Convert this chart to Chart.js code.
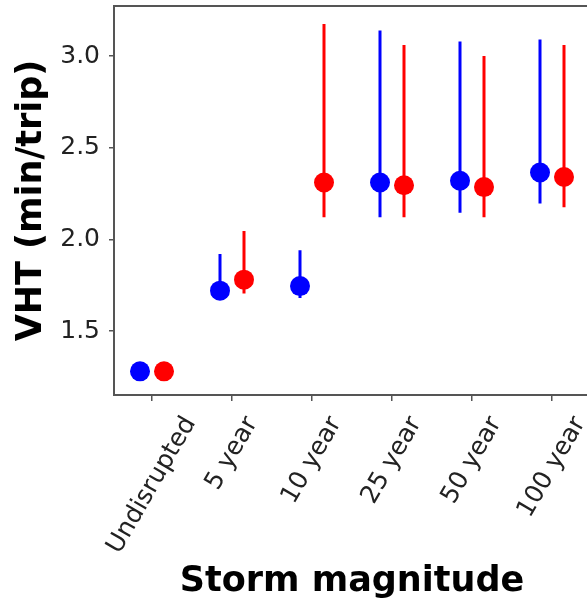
<!DOCTYPE html>
<html>
<head>
<meta charset="utf-8">
<script src="https://cdn.jsdelivr.net/npm/chart.js@4/dist/chart.umd.min.js"></script>
<style>
  html, body { margin: 0; padding: 0; background: #fff; overflow: hidden; }
  #wrap { width: 600px; height: 606px; }
</style>
</head>
<body>
<div id="wrap"><canvas id="c" width="600" height="606"></canvas></div>
<script>
// Storm scenarios along the x axis
const categories = ['Undisrupted', '5 year', '10 year', '25 year', '50 year', '100 year'];

// Blue series: mean VHT with lower / upper range
const blueMean = [1.28, 1.72, 1.745, 2.31, 2.32, 2.365];
const blueLow  = [null, 1.67, 1.68, 2.12, 2.145, 2.195];
const blueHigh = [null, 1.92, 1.94, 3.14, 3.08, 3.09];

// Red series: mean VHT with lower / upper range
const redMean = [1.28, 1.78, 2.31, 2.295, 2.285, 2.34];
const redLow  = [null, 1.705, 2.12, 2.12, 2.12, 2.175];
const redHigh = [null, 2.045, 3.175, 3.06, 3.0, 3.06];

// Y axis tick values
const yTicks = [1.5, 2.0, 2.5, 3.0];

const BLUE = '#0000ff';
const RED = '#ff0000';
const FRAME = '#555555';
const TICK_TEXT = '#222222';
const DODGE = 0.15;

function points(mean, shift) {
  return mean.map((v, i) => ({ x: i + shift, y: v }));
}
function ranges(low, high, shift) {
  const out = [];
  low.forEach((lo, i) => {
    if (lo === null) return;
    out.push({ x: i + shift, y: lo }, { x: i + shift, y: high[i] }, { x: i + shift, y: null });
  });
  return out;
}

// Axes frame drawn around the plotting area
const framePlugin = {
  id: 'frame',
  afterDatasetsDraw(chart) {
    const { ctx, chartArea: a } = chart;
    ctx.save();
    ctx.strokeStyle = FRAME;
    ctx.lineWidth = 2;
    ctx.strokeRect(a.left, a.top, a.right - a.left, a.bottom - a.top);
    ctx.restore();
  }
};

// Rotated category labels, each centred under its tick
const xLabelPlugin = {
  id: 'xlabels',
  afterDraw(chart) {
    const ctx = chart.ctx;
    const xs = chart.scales.x;
    const a = chart.chartArea;
    const ang = 60 * Math.PI / 180;
    ctx.save();
    ctx.font = '25px "DejaVu Sans"';
    ctx.fillStyle = TICK_TEXT;
    ctx.textAlign = 'center';
    ctx.textBaseline = 'middle';
    categories.forEach((lab, i) => {
      const w = ctx.measureText(lab).width;
      const cx = xs.getPixelForValue(i);
      const cy = a.bottom + 24 + w * Math.sin(ang) / 2;
      ctx.save();
      ctx.translate(cx, cy);
      ctx.rotate(-ang);
      ctx.fillText(lab, 0, 0);
      ctx.restore();
    });
    ctx.restore();
  }
};

const markerStyle = { showLine: false, pointRadius: 10, pointHoverRadius: 10, pointBorderWidth: 0 };
const rangeStyle = { showLine: true, pointRadius: 0, pointHoverRadius: 0, borderWidth: 3, spanGaps: false };

new Chart(document.getElementById('c'), {
  type: 'line',
  data: {
    datasets: [
      { data: points(blueMean, -DODGE), backgroundColor: BLUE, borderColor: BLUE, ...markerStyle },
      { data: points(redMean, DODGE), backgroundColor: RED, borderColor: RED, ...markerStyle },
      { data: ranges(blueLow, blueHigh, -DODGE), borderColor: BLUE, ...rangeStyle },
      { data: ranges(redLow, redHigh, DODGE), borderColor: RED, ...rangeStyle }
    ]
  },
  options: {
    responsive: false,
    animation: false,
    events: [],
    layout: { autoPadding: false, padding: { left: 0, right: 10, top: 6, bottom: 0 } },
    plugins: { legend: { display: false }, tooltip: { enabled: false } },
    scales: {
      x: {
        type: 'linear',
        min: -0.475,
        max: 5.475,
        ticks: { stepSize: 1, includeBounds: false, callback: () => '', padding: 0 },
        grid: { drawOnChartArea: false, drawTicks: true, tickLength: 6, color: FRAME, lineWidth: 1.5 },
        border: { display: false },
        title: {
          display: true,
          text: 'Storm magnitude',
          color: '#000',
          font: { family: 'DejaVu Sans', size: 35, weight: 'bold', lineHeight: 1 },
          padding: { top: 0, bottom: 7 }
        },
        afterFit(s) { s.height = 606 - 395; s.paddingLeft = 0; s.paddingRight = 0; }
      },
      y: {
        type: 'linear',
        min: 1.151,
        max: 3.273,
        afterBuildTicks(s) { s.ticks = yTicks.map(v => ({ value: v })); },
        ticks: {
          callback: v => v.toFixed(1),
          color: TICK_TEXT,
          font: { family: 'DejaVu Sans', size: 25 },
          padding: 9
        },
        grid: { drawOnChartArea: false, drawTicks: true, tickLength: 5, color: FRAME, lineWidth: 1.5 },
        border: { display: false },
        title: {
          display: true,
          text: 'VHT (min/trip)',
          color: '#000',
          font: { family: 'DejaVu Sans', size: 35, weight: 'bold', lineHeight: 1 },
          padding: { top: 14, bottom: 0 }
        },
        afterFit(s) { s.width = 114; s.paddingTop = 0; s.paddingBottom = 0; }
      }
    }
  },
  plugins: [framePlugin, xLabelPlugin]
});
</script>
</body>
</html>
